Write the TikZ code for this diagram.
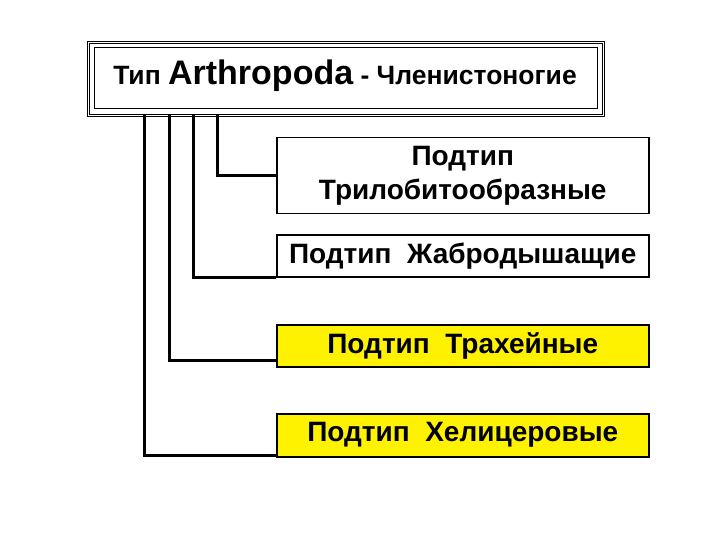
\documentclass[tikz,border=0pt]{standalone}
\usepackage{fontspec}
\setmainfont{Liberation Sans}
\begin{document}
\begin{tikzpicture}[x=1pt,y=-1pt,
  sub/.style={draw=black,line width=1.5pt,minimum width=372pt,anchor=north west,align=center,font=\bfseries\fontsize{28}{34}\selectfont,inner sep=0pt},
  conn/.style={line width=3pt}]
\useasboundingbox (0,0) rectangle (720,540);
\node[draw,line width=1pt,double,double distance=1.5pt,minimum width=515pt,minimum height=73pt,anchor=north west,inner sep=0pt] (top) at (88,42) {};
\draw[line width=1pt] (94,48) rectangle (597,109);
\node[font=\bfseries\fontsize{26.5}{30}\selectfont] (tt) at (345,76) {Тип {\fontsize{34}{38}\selectfont Arthropoda} - Членистоногие};
\node[sub,minimum height=76pt] (b1) at (276,137) {Подтип\\Трилобитообразные};
\node[sub,minimum height=42pt] (b2) at (276,234) {Подтип \ Жабродышащие};
\node[sub,minimum height=42pt,fill=yellow] (b3) at (276,324) {Подтип \ Трахейные};
\node[sub,minimum height=43pt,fill=yellow] (b4) at (276,413) {Подтип \ Хелицеровые};
\draw[conn] (217,115) |- (b1.west);
\draw[conn] (193,115) |- (276,277);
\draw[conn] (169,115) |- (276,360);
\draw[conn] (144,115) |- (276,455);
\end{tikzpicture}
\end{document}
